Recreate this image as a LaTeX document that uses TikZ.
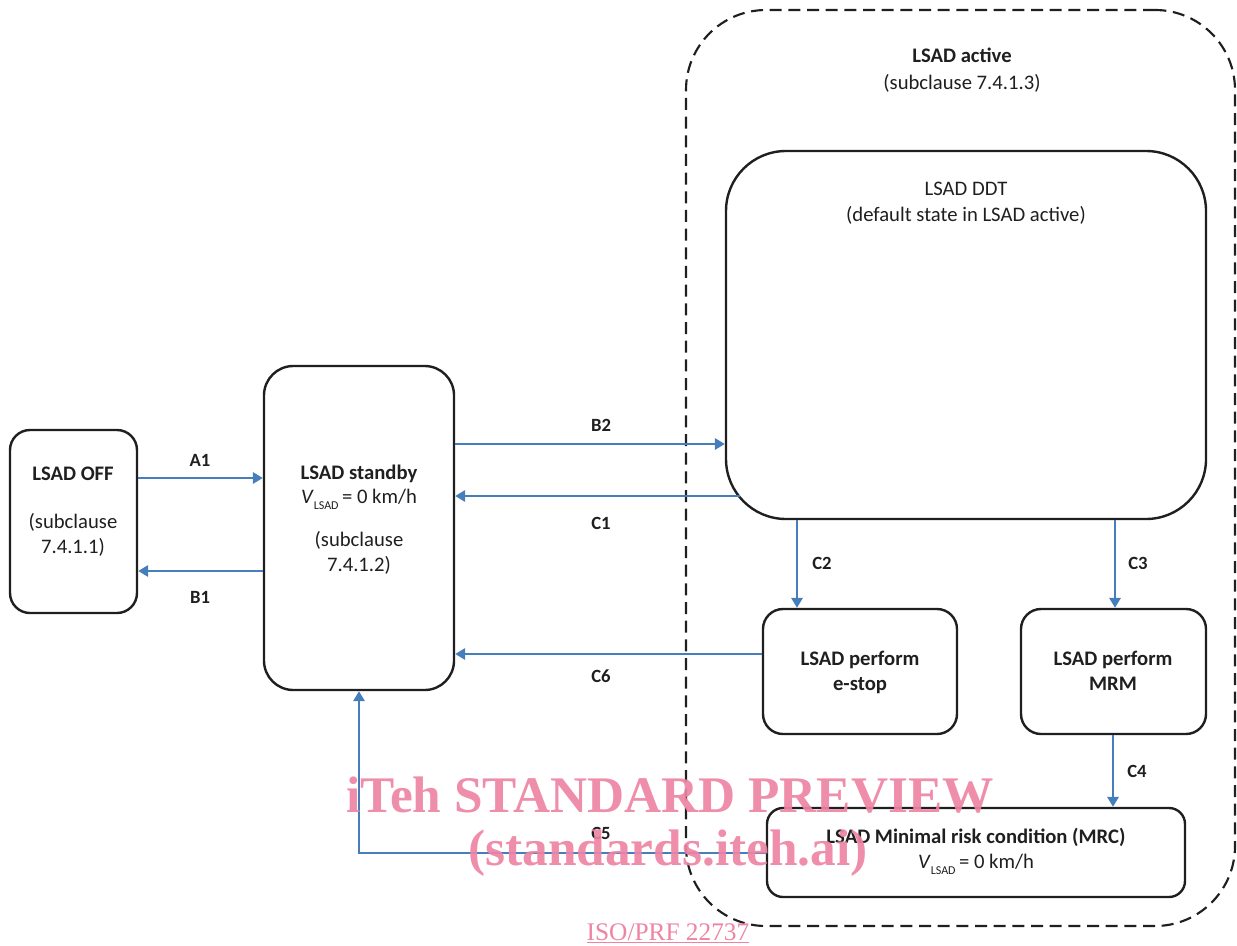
\documentclass[tikz,border=0pt]{standalone}
\usepackage{fontspec}
\setmainfont{Carlito}
\newfontfamily\wmfont{Liberation Serif}
\usetikzlibrary{arrows.meta,fit,calc}
\definecolor{arrblue}{RGB}{70,126,188}
\definecolor{wmpink}{RGB}{238,132,164}
\newcommand{\vlsad}{\textit{V}\raisebox{-5pt}{\fontsize{9}{9}\selectfont LSAD}\,= 0 km/h}
\begin{document}
\begin{tikzpicture}[x=0.75pt,y=-0.75pt,
  box/.style={draw=black!88, line width=1.8pt, rounded corners=#1, inner sep=0pt},
  outer/.style={draw=black!88, line width=1.6pt, dash pattern=on 9pt off 5pt, rounded corners=60pt, inner sep=0pt},
  arr/.style={draw=arrblue, line width=1.75pt, -{Triangle[length=7.5pt,width=8.5pt]}},
  lbl/.style={font=\fontsize{14}{16}\selectfont\bfseries, anchor=base, inner sep=0pt, text=black!88},
  txt/.style={font=\fontsize{15.5}{18}\selectfont, anchor=base, inner sep=0pt, text=black!88},
  btxt/.style={font=\fontsize{15.5}{18}\selectfont\bfseries, anchor=base, inner sep=0pt, text=black!88},
  wm/.style={font=\wmfont\bfseries\fontsize{38.5}{40}\selectfont, anchor=base, inner sep=0pt, text=wmpink, text opacity=0.92}
]
\useasboundingbox (0,0) rectangle (1237,945);

% outer dashed region
\node[outer, fit={(686,10) (1235,926)}] (active) {};
\node[btxt] (tact1) at (962,63) {LSAD active};
\node[txt] (tact2) at (962,90) {(subclause 7.4.1.3)};

% boxes
\node[box=45pt, fit={(726,151) (1206,519)}] (ddt) {};
\node[box=15pt, fit={(10,430) (137,613)}] (off) {};
\node[box=22pt, fit={(264,366) (454,690)}] (stby) {};
\node[box=15pt, fit={(763,609) (957,734)}] (estop) {};
\node[box=15pt, fit={(1021,609) (1206,734)}] (mrm) {};
\node[box=12pt, fit={(767,808) (1185,897)}] (mrc) {};

% texts
\node[txt] (tddt1) at (966,195) {LSAD DDT};
\node[txt] (tddt2) at (966,221) {(default state in LSAD active)};

\node[btxt] (toff1) at (73,480) {LSAD OFF};
\node[txt] (toff2) at (73,528) {(subclause};
\node[txt] (toff3) at (73,553) {7.4.1.1)};

\node[btxt] (tsb1) at (359,479) {LSAD standby};
\node[txt] (tsb2) at (359,503) {\vlsad};
\node[txt] (tsb3) at (359,546) {(subclause};
\node[txt] (tsb4) at (359,571) {7.4.1.2)};

\node[btxt] (tes1) at (860,665) {LSAD perform};
\node[btxt] (tes2) at (860,690) {e-stop};

\node[btxt] (tmrm1) at (1113,665) {LSAD perform};
\node[btxt] (tmrm2) at (1113,690) {MRM};

\node[btxt] (tmrc1) at (976,843) {LSAD Minimal risk condition (MRC)};
\node[txt] (tmrc2) at (976,868) {\vlsad};

% connectors
\coordinate (c1start) at ($(ddt.west |- 0,496)+(15,0)$);
\draw[arr] (off.east |- 0,478) -- (stby.west |- 0,478);
\draw[arr] (stby.west |- 0,571) -- (off.east |- 0,571);
\draw[arr] (stby.east |- 0,444) -- (ddt.west |- 0,444);
\draw[arr] (c1start) -- (stby.east |- c1start);
\draw[arr] (ddt.south -| 797,0) -- (estop.north -| 797,0);
\draw[arr] (ddt.south -| 1115,0) -- (mrm.north -| 1115,0);
\draw[arr] (mrm.south -| 1113,0) -- (mrc.north -| 1113,0);
\draw[arr] (estop.west |- 0,654) -- (stby.east |- 0,654);
\draw[arr] (mrc.west |- 0,853) -| (stby.south);

% labels
\node[lbl] (la1) at (200,466) {A1};
\node[lbl] (lb1) at (200,603) {B1};
\node[lbl] (lb2) at (601,431) {B2};
\node[lbl] (lc1) at (601,529) {C1};
\node[lbl] (lc2) at (822,569) {C2};
\node[lbl] (lc3) at (1138,569) {C3};
\node[lbl] (lc6) at (601,682) {C6};
\node[lbl] (lc4) at (1137,777) {C4};

% watermark
\node[wm] (wm1) at (670,812) {iTeh STANDARD PREVIEW};
\node[lbl] (lc5) at (601,839) {C5};
\node[wm] (wm2) at (668,865) {(standards.iteh.ai)};
\node[anchor=base, inner sep=0pt, text=wmpink, font=\wmfont\fontsize{19}{20}\selectfont] (wm3) at (668,940) {\underline{ISO/PRF 22737}};
\end{tikzpicture}
\end{document}
